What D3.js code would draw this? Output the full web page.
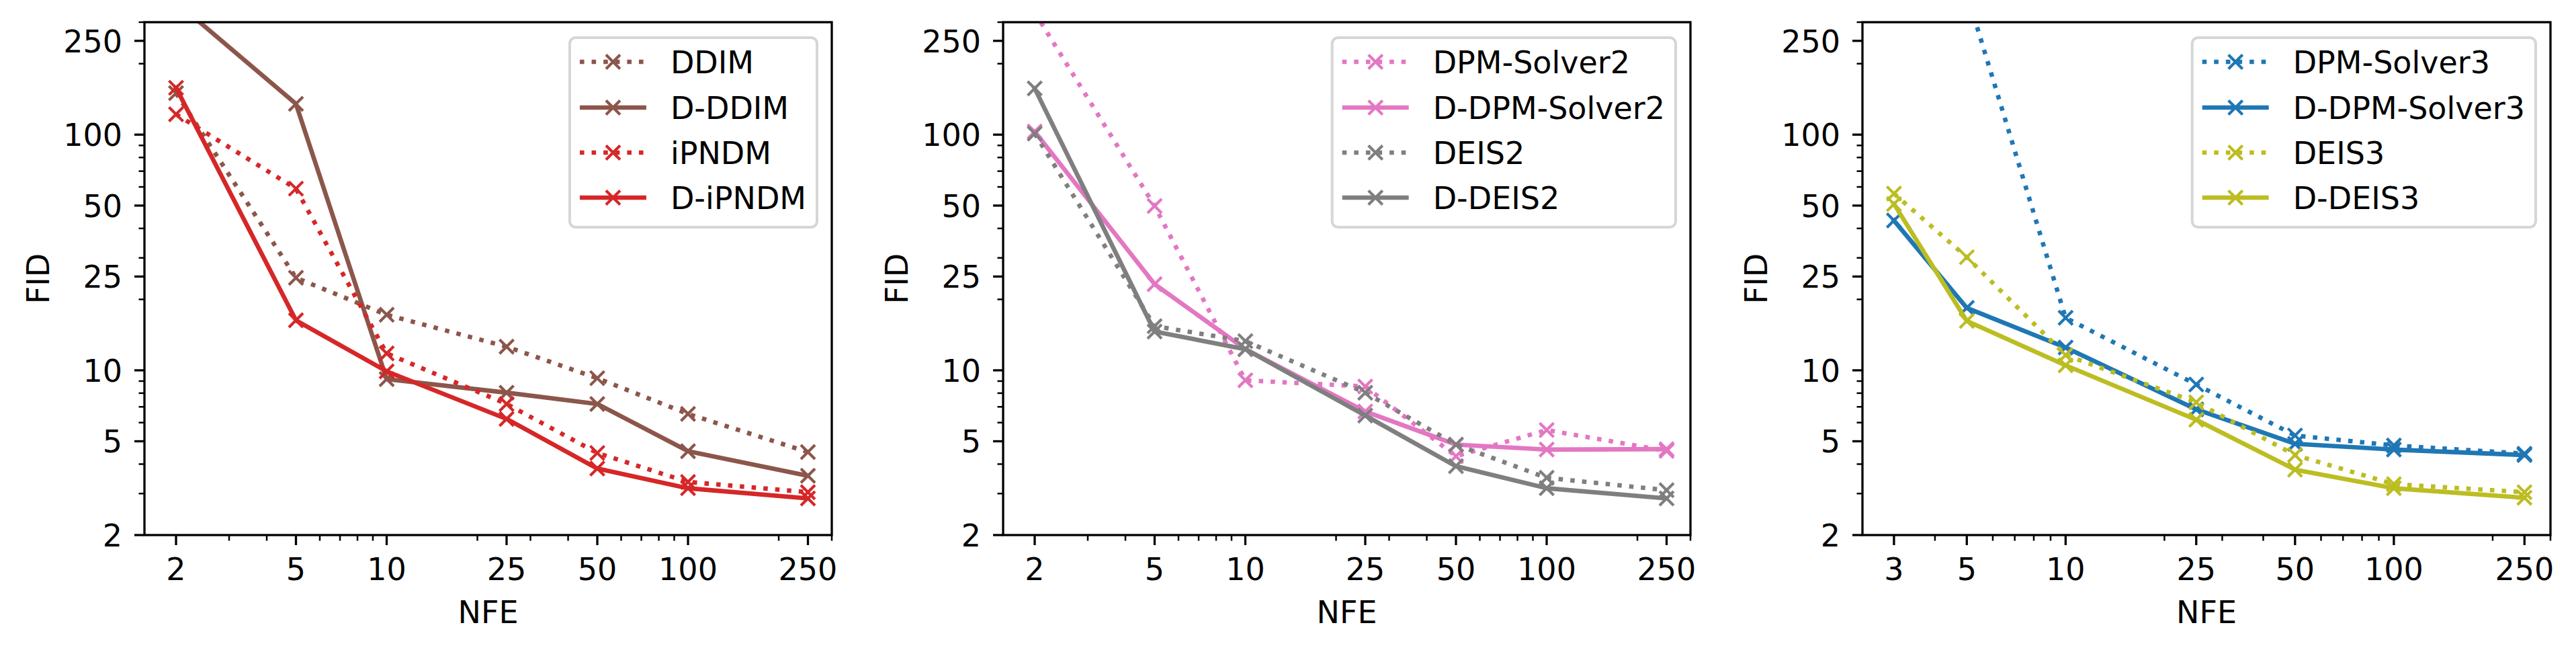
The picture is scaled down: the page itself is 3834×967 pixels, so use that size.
<!DOCTYPE html>
<html>
<head>
<meta charset="utf-8">
<script src="https://cdn.jsdelivr.net/npm/d3@7"></script>
<style>
  body { margin: 0; background: #fff; }
  svg text { font-family: 'DejaVu Sans', sans-serif; fill: #000; }
</style>
</head>
<body>
<svg id="chart" width="3834" height="967"></svg>
<script>
// NFE values on the x axis
var nfeA = [2, 5, 10, 25, 50, 100, 250];
var nfeB = [3, 5, 10, 25, 50, 100, 250];
var xTickLabelsA = [2, 5, 10, 25, 50, 100, 250];
var xTickLabelsB = [3, 5, 10, 25, 50, 100, 250];
var yTickLabels = [2, 5, 10, 25, 50, 100, 250];

// FID, panel 1
var ddim   = [150, 24.7, 17.2, 12.6, 9.26, 6.53, 4.5];
var dDdim  = [365, 135, 9.18, 8.04, 7.2, 4.54, 3.57];
var ipndm  = [122, 59, 11.8, 7.2, 4.46, 3.36, 3.04];
var dIpndm = [158, 16.3, 9.9, 6.22, 3.83, 3.16, 2.86];

// FID, panel 2
var dpm2   = [330, 49.8, 9.07, 8.54, 4.32, 5.58, 4.55];
var dDpm2  = [103, 23.2, 12.3, 6.69, 4.84, 4.61, 4.63];
var deis2  = [101, 15.4, 13.3, 8.04, 4.84, 3.5, 3.1];
var dDeis2 = [157, 14.6, 12.3, 6.43, 3.92, 3.16, 2.86];

// FID, panel 3 (DPM-Solver3 has no visible point at 3)
var dpm3   = [null, 398, 16.7, 8.71, 5.29, 4.8, 4.43];
var dDpm3  = [43.2, 18.4, 12.5, 6.83, 4.88, 4.61, 4.37];
var deis3  = [56.2, 30.2, 11.6, 7.32, 4.37, 3.29, 3.04];
var dDeis3 = [50.8, 16.2, 10.5, 6.17, 3.79, 3.16, 2.88];

var C = {
  brown: '#8c564b', red: '#d62728', pink: '#e377c2',
  gray: '#7f7f7f', blue: '#1f77b4', olive: '#bcbd22'
};

var panels = [
  { left: 215, right: 1238, xs: nfeA, xTicks: xTickLabelsA, xmin: 2 / Math.pow(10, 0.1048),
    series: [
      { name: 'DDIM', v: ddim, color: C.brown, dotted: true },
      { name: 'D-DDIM', v: dDdim, color: C.brown, dotted: false },
      { name: 'iPNDM', v: ipndm, color: C.red, dotted: true },
      { name: 'D-iPNDM', v: dIpndm, color: C.red, dotted: false }
    ] },
  { left: 1493, right: 2516, xs: nfeA, xTicks: xTickLabelsA, xmin: 2 / Math.pow(10, 0.1048),
    series: [
      { name: 'DPM-Solver2', v: dpm2, color: C.pink, dotted: true },
      { name: 'D-DPM-Solver2', v: dDpm2, color: C.pink, dotted: false },
      { name: 'DEIS2', v: deis2, color: C.gray, dotted: true },
      { name: 'D-DEIS2', v: dDeis2, color: C.gray, dotted: false }
    ] },
  { left: 2772, right: 3796, xs: nfeB, xTicks: xTickLabelsB, xmin: 3 / Math.pow(10, 0.096),
    series: [
      { name: 'DPM-Solver3', v: dpm3, color: C.blue, dotted: true },
      { name: 'D-DPM-Solver3', v: dDpm3, color: C.blue, dotted: false },
      { name: 'DEIS3', v: deis3, color: C.olive, dotted: true },
      { name: 'D-DEIS3', v: dDeis3, color: C.olive, dotted: false }
    ] }
];

var plotTop = 33, plotBottom = 796;
var fontSize = 46;
var lw = 6.6, dash = '6.6,11';
var minorAll = [3, 4, 6, 7, 8, 9, 20, 30, 40, 60, 70, 80, 90, 200, 300];

var svg = d3.select('#chart');

// x marker as a path centred on 0,0
function xMarker(s) {
  return 'M' + (-s) + ',' + (-s) + 'L' + s + ',' + s + 'M' + (-s) + ',' + s + 'L' + s + ',' + (-s);
}

panels.forEach(function (p, pi) {
  var g = svg.append('g');
  var x = d3.scaleLog().domain([p.xmin, 300]).range([p.left, p.right]);
  var y = d3.scaleLog().domain([2, 300]).range([plotBottom, plotTop]);

  var clipId = 'clip' + pi;
  svg.append('clipPath').attr('id', clipId)
    .append('rect')
    .attr('x', p.left).attr('y', plotTop)
    .attr('width', p.right - p.left).attr('height', plotBottom - plotTop);

  // lines and markers
  var plot = g.append('g').attr('clip-path', 'url(#' + clipId + ')');
  var line = d3.line()
    .defined(function (d) { return d.v != null; })
    .x(function (d) { return x(d.x); })
    .y(function (d) { return y(d.v); });

  p.series.forEach(function (s) {
    var pts = p.xs.map(function (xv, i) { return { x: xv, v: s.v[i] }; });
    plot.append('path')
      .attr('d', line(pts))
      .attr('fill', 'none')
      .attr('stroke', s.color)
      .attr('stroke-width', lw)
      .attr('stroke-dasharray', s.dotted ? dash : null)
      .attr('stroke-linejoin', 'round')
      .attr('stroke-linecap', s.dotted ? 'butt' : 'square');
    plot.selectAll(null)
      .data(pts.filter(function (d) { return d.v != null; }))
      .enter().append('path')
      .attr('d', xMarker(10.5))
      .attr('transform', function (d) { return 'translate(' + x(d.x) + ',' + y(d.v) + ')'; })
      .attr('stroke', s.color)
      .attr('stroke-width', 4.2)
      .attr('fill', 'none');
  });

  // frame
  g.append('rect')
    .attr('x', p.left).attr('y', plotTop)
    .attr('width', p.right - p.left).attr('height', plotBottom - plotTop)
    .attr('fill', 'none').attr('stroke', '#000').attr('stroke-width', 3.3);

  // x ticks
  var xMinor = minorAll.filter(function (v) {
    return v >= p.xmin && p.xTicks.indexOf(v) < 0;
  });
  g.selectAll(null).data(xMinor).enter().append('line')
    .attr('x1', function (d) { return x(d); }).attr('x2', function (d) { return x(d); })
    .attr('y1', plotBottom).attr('y2', plotBottom + 8.5)
    .attr('stroke', '#000').attr('stroke-width', 2.5);
  g.selectAll(null).data(p.xTicks).enter().append('line')
    .attr('x1', function (d) { return x(d); }).attr('x2', function (d) { return x(d); })
    .attr('y1', plotBottom).attr('y2', plotBottom + 15)
    .attr('stroke', '#000').attr('stroke-width', 3.3);
  g.selectAll(null).data(p.xTicks).enter().append('text')
    .attr('x', function (d) { return x(d); })
    .attr('y', plotBottom + 67)
    .attr('text-anchor', 'middle')
    .attr('font-size', fontSize)
    .text(function (d) { return d; });

  // y ticks
  var yMinor = minorAll.filter(function (v) { return yTickLabels.indexOf(v) < 0; });
  g.selectAll(null).data(yMinor).enter().append('line')
    .attr('x1', p.left - 8.5).attr('x2', p.left)
    .attr('y1', function (d) { return y(d); }).attr('y2', function (d) { return y(d); })
    .attr('stroke', '#000').attr('stroke-width', 2.5);
  g.selectAll(null).data(yTickLabels).enter().append('line')
    .attr('x1', p.left - 15).attr('x2', p.left)
    .attr('y1', function (d) { return y(d); }).attr('y2', function (d) { return y(d); })
    .attr('stroke', '#000').attr('stroke-width', 3.3);
  g.selectAll(null).data(yTickLabels).enter().append('text')
    .attr('x', p.left - 33)
    .attr('y', function (d) { return y(d) + 17; })
    .attr('text-anchor', 'end')
    .attr('font-size', fontSize)
    .text(function (d) { return d; });

  // axis labels
  g.append('text')
    .attr('transform', 'translate(' + (p.left - 142) + ',' + ((plotTop + plotBottom) / 2) + ') rotate(-90)')
    .attr('text-anchor', 'middle')
    .attr('font-size', fontSize)
    .text('FID');
  g.append('text')
    .attr('x', (p.left + p.right) / 2)
    .attr('y', 927)
    .attr('text-anchor', 'middle')
    .attr('font-size', fontSize)
    .text('NFE');

  // legend
  var leg = g.append('g');
  var frame = leg.append('rect');
  var rowY = [59, 127, 194, 261];
  var maxW = 0;
  var texts = [];
  p.series.forEach(function (s, i) {
    var t = leg.append('text')
      .attr('y', plotTop + rowY[i] + 17)
      .attr('font-size', fontSize)
      .text(s.name);
    maxW = Math.max(maxW, t.node().getComputedTextLength());
    texts.push(t);
  });
  var legW = 150 + maxW + 16;
  var legX = p.right - 22 - legW;
  frame.attr('x', legX).attr('y', plotTop + 23)
    .attr('width', legW).attr('height', 282)
    .attr('rx', 9).attr('ry', 9)
    .attr('fill', '#fff').attr('fill-opacity', 0.8)
    .attr('stroke', '#d6d6d6').attr('stroke-width', 4);
  p.series.forEach(function (s, i) {
    var cy = plotTop + rowY[i];
    texts[i].attr('x', legX + 150);
    leg.append('line')
      .attr('x1', legX + 15).attr('x2', legX + 114)
      .attr('y1', cy).attr('y2', cy)
      .attr('stroke', s.color).attr('stroke-width', lw)
      .attr('stroke-dasharray', s.dotted ? dash : null);
    leg.append('path')
      .attr('d', xMarker(10.5))
      .attr('transform', 'translate(' + (legX + 64.5) + ',' + cy + ')')
      .attr('stroke', s.color).attr('stroke-width', 4.2).attr('fill', 'none');
  });
});
</script>
</body>
</html>
